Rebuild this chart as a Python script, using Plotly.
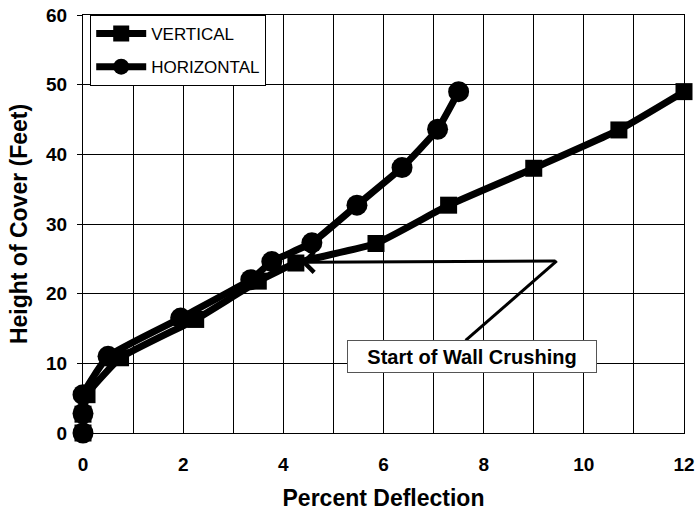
import plotly.graph_objects as go

# Data
vert_x = [0, 0, 0.08, 0.75, 2.25, 3.5, 4.25, 5.85, 7.3, 9.0, 10.7, 12.0]
vert_y = [0, 2.7, 5.5, 10.8, 16.3, 21.8, 24.4, 27.2, 32.7, 38.0, 43.5, 49.0]
horz_x = [0, 0, 0, 0.5, 1.95, 3.35, 3.77, 4.57, 5.47, 6.37, 7.08, 7.5]
horz_y = [0, 2.8, 5.5, 11.0, 16.5, 22.0, 24.6, 27.3, 32.7, 38.1, 43.6, 49.0]
x_ticks = [0, 2, 4, 6, 8, 10, 12]
y_ticks = [0, 10, 20, 30, 40, 50, 60]

font = "Liberation Sans, Arial, sans-serif"

fig = go.Figure()
fig.add_trace(go.Scatter(
    x=vert_x, y=vert_y, name="VERTICAL", mode="lines+markers", cliponaxis=False,
    legendgroup="v",
    line=dict(color="black", width=7, shape="spline", smoothing=0.4),
    marker=dict(symbol="square", size=17, color="black"),
))
fig.add_trace(go.Scatter(
    x=horz_x, y=horz_y, name="HORIZONTAL", mode="lines+markers", cliponaxis=False,
    legendgroup="h",
    line=dict(color="black", width=7, shape="spline", smoothing=0.4),
    marker=dict(symbol="circle", size=21, color="black"),
))

# Callout leader
fig.add_shape(type="line", x0=7.64, y0=13.3, x1=9.46, y1=24.7,
              line=dict(color="black", width=3), layer="above")
fig.add_annotation(x=4.35, y=24.5, ax=9.46, ay=24.7, axref="x", ayref="y",
                   xref="x", yref="y", text="", showarrow=True,
                   arrowhead=4, arrowsize=1.3, arrowwidth=3, arrowcolor="black")
fig.add_annotation(x=7.76, y=11.0, xref="x", yref="y",
                   text="<b>Start of Wall Crushing</b>", showarrow=False,
                   font=dict(family=font, size=20, color="black"),
                   bgcolor="white", bordercolor="#555", borderwidth=1,
                   width=246, height=29)

fig.update_layout(
    width=697, height=515,
    margin=dict(l=83, r=13, t=15, b=82, autoexpand=False),
    paper_bgcolor="white", plot_bgcolor="white",
    font=dict(family=font, color="black"),
    showlegend=True,
    legend=dict(x=0.012, y=1.0, xanchor="left", yanchor="top",
                bgcolor="white", bordercolor="black", borderwidth=1,
                font=dict(family=font, size=17, color="black"),
                itemwidth=50, tracegroupgap=8),
    xaxis=dict(range=[0, 12], tickvals=x_ticks, ticktext=[str(v) for v in x_ticks],
               automargin=False, ticklabeloverflow="allow",
               showgrid=True, gridcolor="black", gridwidth=1,
               minor=dict(dtick=1, showgrid=True, gridcolor="black", gridwidth=1),
               zeroline=False, showline=True, linecolor="black", linewidth=1,
               mirror=True, ticks="", ticklabelstandoff=14,
               tickfont=dict(family=font, size=19, color="black", weight="bold"),
               title=dict(text="<b>Percent Deflection</b>", standoff=16,
                          font=dict(family=font, size=23, color="black"))),
    yaxis=dict(range=[0, 60], tickvals=y_ticks, ticktext=[str(v) for v in y_ticks],
               automargin=False, ticklabeloverflow="allow",
               showgrid=True, gridcolor="black", gridwidth=1,
               zeroline=False, showline=True, linecolor="black", linewidth=1,
               mirror=True, ticks="outside", ticklen=5, tickcolor="black",
               ticklabelstandoff=6,
               tickfont=dict(family=font, size=19, color="black", weight="bold"),
               title=dict(text="<b>Height of Cover (Feet)</b>", standoff=12,
                          font=dict(family=font, size=23, color="black"))),
)

fig.write_html("out.html",
               config=dict(displayModeBar=False),
               post_script="document.body.style.margin='0';"
                           "document.body.style.overflow='hidden';")
